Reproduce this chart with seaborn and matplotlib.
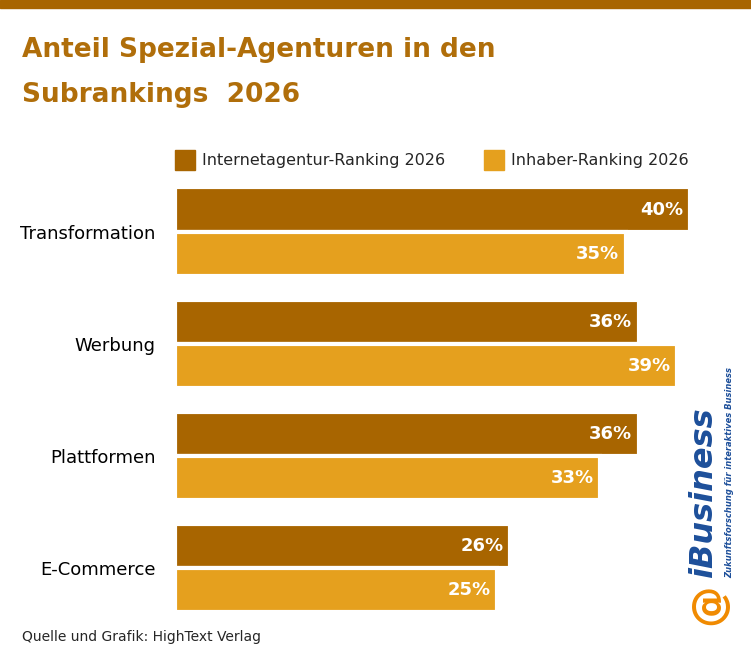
import matplotlib
matplotlib.use('Agg')
import matplotlib.pyplot as plt
import seaborn as sns
import pandas as pd

categories = ['Transformation', 'Werbung', 'Plattformen', 'E-Commerce']
series = ['Internetagentur-Ranking 2026', 'Inhaber-Ranking 2026']
internet = [40, 36, 36, 26]
inhaber = [35, 39, 33, 25]
colors = ['#a86500', '#e5a01e']
title_color = '#b06e0a'

df = pd.DataFrame({
    'Kategorie': categories * 2,
    'Ranking': [series[0]] * 4 + [series[1]] * 4,
    'Anteil': internet + inhaber,
})

sns.set_style('white')
plt.rcParams['font.family'] = ['DejaVu Sans']
fig = plt.figure(figsize=(7.51, 6.68), dpi=100)
ax = fig.add_axes([0.233, 0.066, 0.686, 0.671])

sns.barplot(data=df, y='Kategorie', x='Anteil', hue='Ranking', orient='h',
            palette=colors, saturation=1, width=0.79, edgecolor='white', linewidth=3,
            legend=False, ax=ax)
ax.set_xlim(0, 40)
ax.set_ylim(3.5, -0.5)
ax.set_xlabel('')
ax.set_ylabel('')
ax.set_xticks([])
ax.tick_params(axis='y', length=0, pad=14, labelsize=13, labelcolor='black')
for s in ax.spines.values():
    s.set_visible(False)

for cont in ax.containers:
    for bar in cont:
        w = bar.get_width()
        ax.text(w - 0.5, bar.get_y() + bar.get_height() / 2, f'{w:.0f}%',
                ha='right', va='center', color='white', fontsize=13, fontweight='bold')

# top rule
fig.add_artist(plt.Rectangle((0, 0.988), 1, 0.012, transform=fig.transFigure, color='#a86500'))

fig.text(0.029, 0.925, 'Anteil Spezial-Agenturen in den', fontsize=19, fontweight='bold',
         color=title_color, va='center')
fig.text(0.029, 0.858, 'Subrankings  2026', fontsize=19, fontweight='bold',
         color=title_color, va='center')

# legend
for i, (name, c) in enumerate(zip(series, colors)):
    x0 = 0.233 if i == 0 else 0.645
    fig.add_artist(plt.Rectangle((x0, 0.745), 0.026, 0.03, transform=fig.transFigure, color=c))
    fig.text(x0 + 0.036, 0.760, name, fontsize=11.5, va='center')

fig.text(0.029, 0.046, 'Quelle und Grafik: HighText Verlag', fontsize=10, va='center')

# logo
fig.text(0.937, 0.135, 'iBusiness', rotation=90, fontsize=23, fontweight='bold',
         fontstyle='italic', color='#1d4f9a', ha='center', va='bottom')
fig.text(0.972, 0.135, 'Zukunftsforschung für interaktives Business', rotation=90,
         fontsize=6, fontstyle='italic', fontweight='bold', color='#1d4f9a',
         ha='center', va='bottom')
fig.text(0.945, 0.095, '@', rotation=90, fontsize=30, fontweight='bold',
         color='#f08a00', ha='center', va='center')

fig.savefig('out.png', dpi=100)
